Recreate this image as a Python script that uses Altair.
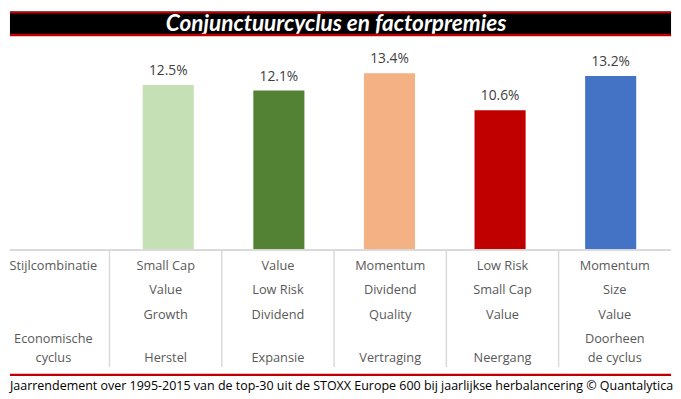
import altair as alt
import pandas as pd

# ---------------- data ----------------
title_text = "Conjunctuurcyclus en factorpremies"
footer_text = ("Jaarrendement over 1995-2015 van de top-30 uit de STOXX Europe 600 "
               "bij jaarlijkse herbalancering © Quantalytica")
columns = [1, 2, 3, 4, 5]
returns = [12.5, 12.1, 13.4, 10.6, 13.2]
bar_colors = ["#C5E0B4", "#548235", "#F4B183", "#C00000", "#4472C4"]
styles = [
    ["Small Cap", "Value", "Growth"],
    ["Value", "Low Risk", "Dividend"],
    ["Momentum", "Dividend", "Quality"],
    ["Low Risk", "Small Cap", "Value"],
    ["Momentum", "Size", "Value"],
]
cycles = [["Herstel"], ["Expansie"], ["Vertraging"], ["Neergang"], ["Doorheen", "de cyclus"]]
label_style = "Stijlcombinatie"
label_cycle = ["Economische", "cyclus"]

# ---------------- layout ----------------
W = 673
H_TITLE = 25
H_BARS = 218
H_TABLE = 119
H_FOOT = 27
PX_PER_COL = 114.3
X_LO = 1 - 158.5 / PX_PER_COL
X_HI = 1 + 514.5 / PX_PER_COL
PX_PER_PCT = 13.44
Y_MAX = H_BARS / PX_PER_PCT
ROW_PX = 25
R_LO = 1 - 16 / ROW_PX
R_HI = 1 + (H_TABLE - 16) / ROW_PX

GRAY_TXT = "#595959"
GRID = "#D9D9D9"
RED = "#C00000"
FONT = "Open Sans"

xscale = alt.Scale(domain=[X_LO, X_HI], nice=False, zero=False)

# ---------------- title band ----------------
title_df = pd.DataFrame({"t": [title_text]})
tbase = alt.Chart(title_df)
t_text = tbase.mark_text(font="Lato", fontSize=23, fontWeight="bold", fontStyle="italic",
                         color="white", baseline="middle", align="center").encode(
    text="t:N", x=alt.value(332), y=alt.value(H_TITLE / 2 + 0.5))
t_top = tbase.mark_rule(color=RED, strokeWidth=2).encode(y=alt.value(1))
t_bot = tbase.mark_rule(color=RED, strokeWidth=2.5).encode(y=alt.value(H_TITLE - 1))
title_panel = alt.layer(t_text, t_top, t_bot).properties(
    width=W, height=H_TITLE, view=alt.ViewBackground(fill="black", stroke=None))

# ---------------- bars ----------------
bars_df = pd.DataFrame({"col": columns, "value": returns, "color": bar_colors})
bbase = alt.Chart(bars_df)
X = alt.X("col:Q", scale=xscale, axis=None)
Y = alt.Y("value:Q", scale=alt.Scale(domain=[0, Y_MAX], nice=False), axis=None)
bars = bbase.mark_bar(width=52).encode(x=X, y=Y, color=alt.Color("color:N", scale=None))
vals = bbase.transform_calculate(label="format(datum.value, '.1f') + '%'").mark_text(
    font=FONT, fontSize=14, color="#404040", dy=-14, baseline="middle").encode(
    x=X, y=Y, text="label:N")
axis_line = bbase.mark_rule(color=GRID, strokeWidth=1.5).encode(y=alt.datum(0))
bars_panel = alt.layer(bars, vals, axis_line).properties(width=W, height=H_BARS)

# ---------------- table ----------------
style_rows = [{"col": 0, "row": 1, "txt": label_style}]
for c, lst in zip(columns, styles):
    for r, s in enumerate(lst, start=1):
        style_rows.append({"col": c, "row": r, "txt": s})
upper_rows, last_rows = [], []
for c, lines in zip([0] + columns, [label_cycle] + cycles):
    for s in lines[:-1]:
        upper_rows.append({"col": c, "row": 4, "txt": s})
    last_rows.append({"col": c, "row": 4, "txt": lines[-1]})
sep_df = pd.DataFrame({"x": [c - 0.5 for c in columns]})

TX = alt.X("col:Q", scale=xscale, axis=None)
TY = alt.Y("row:Q", scale=alt.Scale(domain=[R_LO, R_HI], nice=False, zero=False, reverse=True), axis=None)
txt_style = dict(font=FONT, fontSize=13, color=GRAY_TXT, baseline="middle")
style_txt = alt.Chart(pd.DataFrame(style_rows)).mark_text(**txt_style).encode(x=TX, y=TY, text="txt:N")
upper_txt = alt.Chart(pd.DataFrame(upper_rows)).mark_text(**txt_style).encode(x=TX, y=TY, text="txt:N")
last_txt = alt.Chart(pd.DataFrame(last_rows)).mark_text(dy=19, **txt_style).encode(x=TX, y=TY, text="txt:N")
seps = alt.Chart(sep_df).mark_rule(color=GRID, strokeWidth=1.5).encode(
    x=alt.X("x:Q", scale=xscale, axis=None))
table_panel = alt.layer(seps, style_txt, upper_txt, last_txt).properties(width=W, height=H_TABLE)

# ---------------- footer ----------------
foot_df = pd.DataFrame({"t": [footer_text]})
fbase = alt.Chart(foot_df)
f_line = fbase.mark_rule(color=RED, strokeWidth=2.5).encode(y=alt.value(8))
f_text = fbase.mark_text(font=FONT, fontSize=12.7, color="black", align="left",
                         baseline="middle").encode(text="t:N", x=alt.value(0), y=alt.value(19))
footer_panel = alt.layer(f_line, f_text).properties(width=W, height=H_FOOT)

chart = alt.vconcat(title_panel, bars_panel, table_panel, footer_panel, spacing=0,
                    bounds="flush").properties(
    padding=0, background="white").configure_view(stroke=None).configure_concat(spacing=0)

chart.save("out.html", embed_options={"renderer": "svg", "actions": False})
